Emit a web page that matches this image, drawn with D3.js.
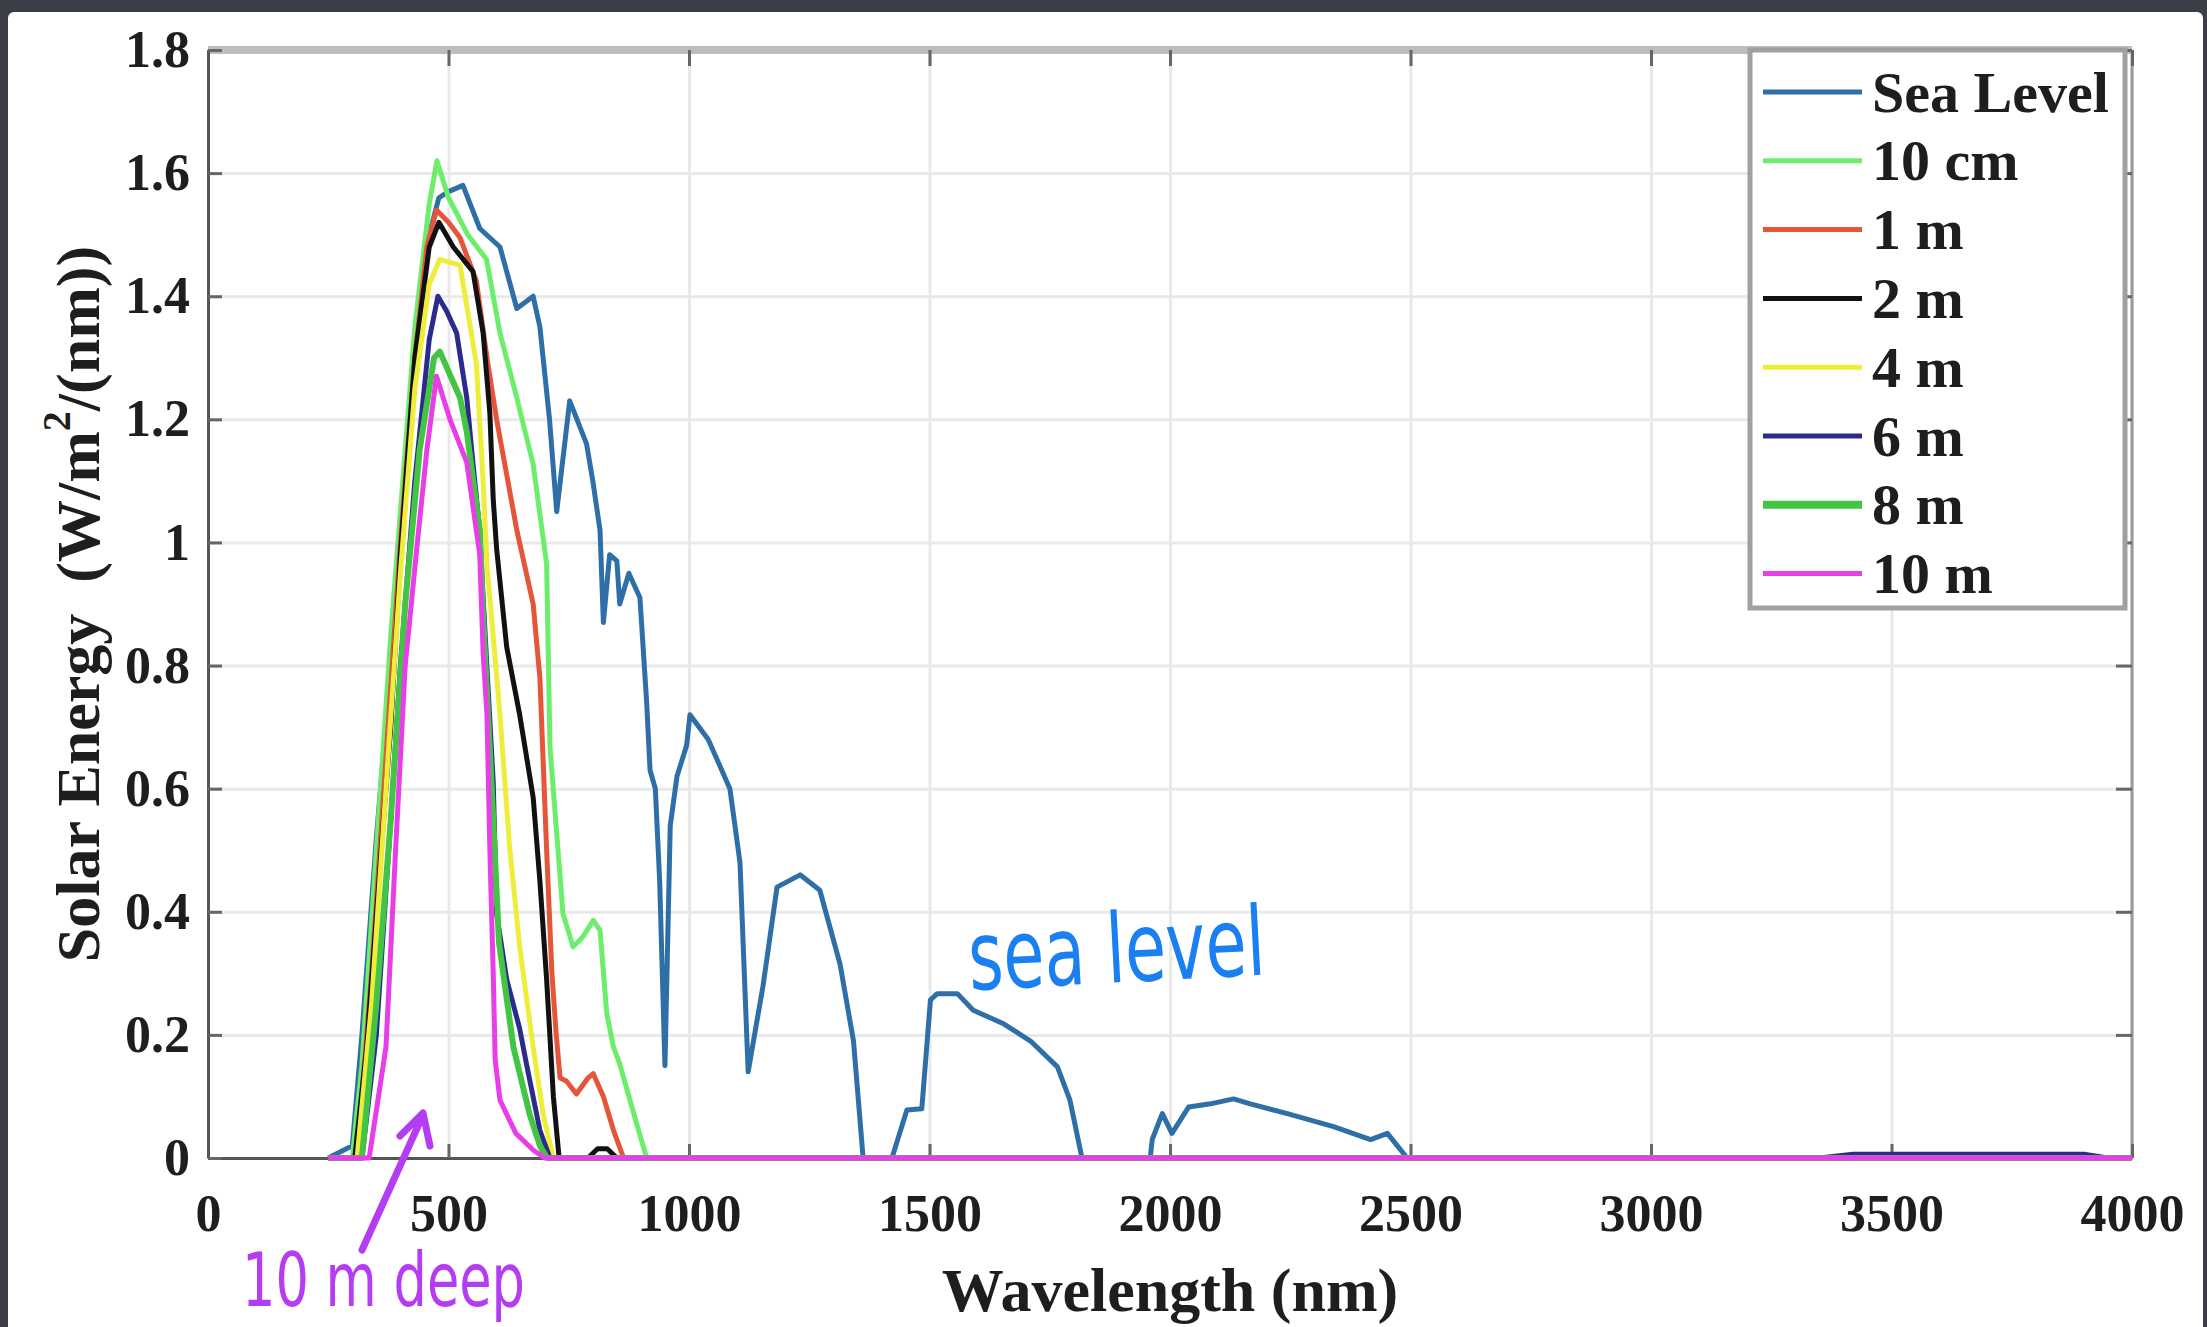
<!DOCTYPE html>
<html>
<head>
<meta charset="utf-8">
<style>
  body { margin: 0; background: #3b3e46; }
  #chart-area { width: 2207px; height: 1327px; overflow: hidden; }
  svg { display: block; }
  .axis text { font-family: "Liberation Serif", "Times New Roman", serif; font-weight: bold; fill: #1e1e1e; }
</style>
</head>
<body>
<div id="chart-area"></div>
<script src="https://cdnjs.cloudflare.com/ajax/libs/d3/7.8.5/d3.min.js"></script>
<script>
// spectra: [wavelength nm, W/m2/nm]
var seaLevel = [[250,0],[300,0.02],[320,0.2],[350,0.52],[375,0.75],[400,1.0],[430,1.3],[460,1.5],[480,1.56],
  [500,1.57],[530,1.58],[565,1.51],[607,1.48],[642,1.38],[676,1.40],[690,1.35],[710,1.2],[725,1.05],[752,1.23],
  [787,1.16],[800,1.1],[815,1.02],[822,0.87],[835,0.98],[850,0.97],[856,0.9],[875,0.95],[898,0.91],[912,0.74],
  [919,0.63],[930,0.6],[939,0.45],[950,0.15],[961,0.54],[975,0.62],[995,0.67],[1002,0.72],[1040,0.68],[1085,0.6],
  [1106,0.48],[1123,0.14],[1154,0.28],[1183,0.44],[1231,0.46],[1272,0.435],[1314,0.315],[1342,0.19],[1362,0],
  [1422,0],[1453,0.078],[1484,0.08],[1502,0.257],[1516,0.267],[1558,0.267],[1591,0.24],[1654,0.218],[1710,0.19],
  [1766,0.148],[1792,0.094],[1817,0],[1959,0],[1963,0.03],[1984,0.072],[2004,0.04],[2039,0.083],[2084,0.088],
  [2132,0.096],[2167,0.088],[2244,0.072],[2340,0.051],[2417,0.03],[2452,0.04],[2493,0],[4000,0]];

var depth10cm = [[250,0],[300,0],[320,0.15],[350,0.5],[380,0.85],[400,1.05],[430,1.35],[460,1.55],[476,1.62],
  [500,1.56],[540,1.5],[579,1.46],[607,1.34],[642,1.235],[676,1.127],[704,0.965],[711,0.667],[738,0.397],
  [759,0.343],[780,0.36],[801,0.386],[815,0.37],[829,0.235],[843,0.18],[856,0.153],[891,0.056],[912,0],[4000,0]];

var depth1m = [[250,0],[310,0],[340,0.3],[370,0.65],[400,1.0],[430,1.3],[455,1.48],[475,1.54],[500,1.52],
  [524,1.495],[558,1.425],[580,1.3],[600,1.2],[642,1.02],[676,0.9],[690,0.78],[704,0.5],[715,0.3],[724,0.2],
  [732,0.13],[745,0.125],[766,0.104],[790,0.13],[801,0.137],[822,0.1],[843,0.045],[864,0],[4000,0]];

var depth2m = [[250,0],[305,0],[330,0.18],[360,0.5],[380,0.7],[400,0.98],[430,1.3],[460,1.48],[480,1.52],
  [510,1.48],[551,1.44],[572,1.34],[586,1.21],[593,1.07],[600,0.99],[621,0.83],[648,0.72],[676,0.586],
  [690,0.45],[704,0.29],[718,0.1],[730,0],[790,0],[810,0.015],[830,0.015],[850,0],[4000,0]];

var depth4m = [[250,0],[310,0],[340,0.25],[370,0.6],[400,0.95],[430,1.25],[460,1.42],[482,1.46],[524,1.45],
  [558,1.29],[572,1.1],[580,0.965],[607,0.72],[627,0.505],[648,0.343],[676,0.18],[697,0.07],[718,0],[4000,0]];

var depth6m = [[250,0],[320,0],[350,0.2],[380,0.55],[400,0.8],[430,1.1],[460,1.33],[478,1.40],[496,1.376],
  [517,1.34],[538,1.235],[551,1.127],[565,1.02],[572,0.91],[593,0.61],[600,0.397],[621,0.29],[648,0.21],
  [662,0.153],[690,0.045],[711,0],[3350,0],[3420,0.006],[3900,0.006],[3950,0],[4000,0]];

var depth8m = [[250,0],[320,0],[350,0.25],[380,0.55],[410,0.9],[440,1.15],[470,1.3],[482,1.31],[524,1.235],
  [538,1.18],[565,1.02],[572,0.88],[590,0.6],[605,0.35],[635,0.18],[669,0.07],[690,0.02],[705,0],[4000,0]];

var depth10m = [[250,0],[335,0],[370,0.18],[390,0.5],[410,0.8],[434,0.99],[455,1.15],[475,1.27],[503,1.2],
  [538,1.13],[565,0.98],[572,0.82],[580,0.72],[586,0.5],[593,0.3],[597,0.16],[607,0.094],[640,0.04],
  [676,0.013],[700,0],[4000,0]];

var seriesData = [seaLevel, depth10cm, depth1m, depth2m, depth4m, depth6m, depth8m, depth10m];
var seriesNames = ["Sea Level", "10 cm", "1 m", "2 m", "4 m", "6 m", "8 m", "10 m"];
var seriesColors = ["#2f6fa8", "#6cee6c", "#e4553a", "#111111", "#eeee3a", "#2b2b8c", "#44c444", "#e83ee8"];

var xTicks = [0, 500, 1000, 1500, 2000, 2500, 3000, 3500, 4000];
var yTicks = [0, 0.2, 0.4, 0.6, 0.8, 1, 1.2, 1.4, 1.6, 1.8];

var margin = { left: 208, right: 75, top: 50, bottom: 169 };
var width = 2207 - margin.left - margin.right;
var height = 1327 - margin.top - margin.bottom;

var svg = d3.select("#chart-area").append("svg")
  .attr("width", 2207)
  .attr("height", 1327);

// dark frame + white page
svg.append("rect").attr("width", 2207).attr("height", 1327).attr("fill", "#3b3e46");
svg.append("rect").attr("x", 8).attr("y", 12).attr("width", 2195).attr("height", 1330)
  .attr("rx", 6).attr("fill", "#ffffff");

var g = svg.append("g")
  .attr("transform", "translate(" + margin.left + "," + margin.top + ")");

var x = d3.scaleLinear().domain([0, 4000]).range([0, width]);
var y = d3.scaleLinear().domain([0, 1.8]).range([height, 0]);

// grid
g.append("g")
  .attr("class", "grid")
  .attr("transform", "translate(0," + height + ")")
  .call(d3.axisBottom(x).tickValues(xTicks).tickSize(-height).tickFormat(""));
g.append("g")
  .attr("class", "grid")
  .call(d3.axisLeft(y).tickValues(yTicks).tickSize(-width).tickFormat(""));
g.selectAll(".grid .domain").remove();
g.selectAll(".grid line").attr("stroke", "#e9e9e9").attr("stroke-width", 3);

// frame: top and right edges
g.append("line").attr("x1", 0).attr("x2", width).attr("y1", 0).attr("y2", 0)
  .attr("stroke", "#bdbdbd").attr("stroke-width", 8);
g.append("line").attr("x1", width).attr("x2", width).attr("y1", 0).attr("y2", height)
  .attr("stroke", "#9a9a9a").attr("stroke-width", 3);

var topTicks = g.append("g").attr("class", "axis")
  .call(d3.axisTop(x).tickValues(xTicks).tickSize(-16).tickSizeOuter(0).tickFormat(""));
var rightTicks = g.append("g").attr("class", "axis")
  .attr("transform", "translate(" + width + ",0)")
  .call(d3.axisRight(y).tickValues(yTicks).tickSize(-16).tickSizeOuter(0).tickFormat(""));
topTicks.select(".domain").remove();
rightTicks.select(".domain").remove();

// X Axis
var xAxisGroup = g.append("g")
  .attr("class", "axis")
  .attr("transform", "translate(0," + height + ")")
  .call(d3.axisBottom(x).tickValues(xTicks).tickSize(-14).tickSizeOuter(0).tickPadding(36)
    .tickFormat(d3.format("d")));

// Y Axis
var yAxisGroup = g.append("g")
  .attr("class", "axis")
  .call(d3.axisLeft(y).tickValues(yTicks).tickSize(-14).tickSizeOuter(0).tickPadding(18)
    .tickFormat(d3.format("~g")));

g.selectAll(".axis text").attr("font-size", "52px");
g.selectAll(".axis line").attr("stroke", "#666").attr("stroke-width", 3);
g.selectAll(".axis .domain").attr("stroke", "#555").attr("stroke-width", 3);

// lines
g.append("clipPath").attr("id", "plot-clip")
  .append("rect").attr("x", 0).attr("y", -2).attr("width", width).attr("height", height + 6);

var line = d3.line()
  .x(function(d) { return x(d[0]); })
  .y(function(d) { return y(d[1]); });

g.append("g")
  .attr("clip-path", "url(#plot-clip)")
  .selectAll("path")
  .data(seriesData)
  .enter()
  .append("path")
    .attr("d", line)
    .attr("fill", "none")
    .attr("stroke", function(d, i) { return seriesColors[i]; })
    .attr("stroke-width", function(d, i) { return i == 6 ? 6 : 5; })
    .attr("stroke-linejoin", "round");

// X Label
g.append("text")
  .attr("x", width / 2)
  .attr("y", 1261)
  .attr("font-family", "Liberation Serif, Times New Roman, serif")
  .attr("font-weight", "bold")
  .attr("font-size", "62px")
  .attr("fill", "#1e1e1e")
  .attr("text-anchor", "middle")
  .text("Wavelength (nm)");

// Y Label
var yLabel = g.append("text")
  .attr("x", -(height / 2))
  .attr("y", -130)
  .attr("font-family", "Liberation Serif, Times New Roman, serif")
  .attr("font-weight", "bold")
  .attr("font-size", "62px")
  .attr("fill", "#1e1e1e")
  .attr("text-anchor", "middle")
  .attr("dominant-baseline", "central")
  .attr("transform", "rotate(-90)")
  .attr("xml:space", "preserve");
yLabel.append("tspan").text("Solar Energy  (W/m");
yLabel.append("tspan").attr("font-size", "40px").attr("dy", "-22").text("2");
yLabel.append("tspan").attr("dy", "22").text("/(nm))");

// legend
var legend = svg.append("g").attr("transform", "translate(1750,50)");
legend.append("rect")
  .attr("width", 375).attr("height", 558)
  .attr("fill", "#ffffff").attr("stroke", "#a0a0a0").attr("stroke-width", 5);

var entry = legend.selectAll(".entry")
  .data(seriesNames)
  .enter()
  .append("g")
    .attr("class", "entry")
    .attr("transform", function(d, i) { return "translate(0," + (42 + i * 68.8) + ")"; });

entry.append("line")
  .attr("x1", 13).attr("x2", 112)
  .attr("stroke", function(d, i) { return seriesColors[i]; })
  .attr("stroke-width", function(d, i) { return i == 6 ? 8 : 5; });

entry.append("text")
  .attr("x", 122)
  .attr("dominant-baseline", "central")
  .attr("font-family", "Liberation Serif, Times New Roman, serif")
  .attr("font-weight", "bold")
  .attr("font-size", "58px")
  .attr("fill", "#1e1e1e")
  .text(function(d) { return d; });

// handwritten notes
svg.append("text")
  .attr("x", 970)
  .attr("y", 990)
  .attr("transform", "rotate(-3,970,990)")
  .attr("font-family", "DejaVu Sans, sans-serif")
  .attr("font-size", "96px")
  .attr("fill", "#1a7ff0")
  .attr("textLength", 297)
  .attr("lengthAdjust", "spacingAndGlyphs")
  .text("sea level");

svg.append("text")
  .attr("x", 242)
  .attr("y", 1306)
  .attr("font-family", "DejaVu Sans, sans-serif")
  .attr("font-size", "74px")
  .attr("fill", "#b43cf2")
  .attr("textLength", 283)
  .attr("lengthAdjust", "spacingAndGlyphs")
  .text("10 m deep");

svg.append("path")
  .attr("d", "M362,1250L423,1115M400,1136L423,1113L430,1146")
  .attr("fill", "none")
  .attr("stroke", "#b43cf2")
  .attr("stroke-width", 7)
  .attr("stroke-linecap", "round")
  .attr("stroke-linejoin", "round");
</script>
</body>
</html>
